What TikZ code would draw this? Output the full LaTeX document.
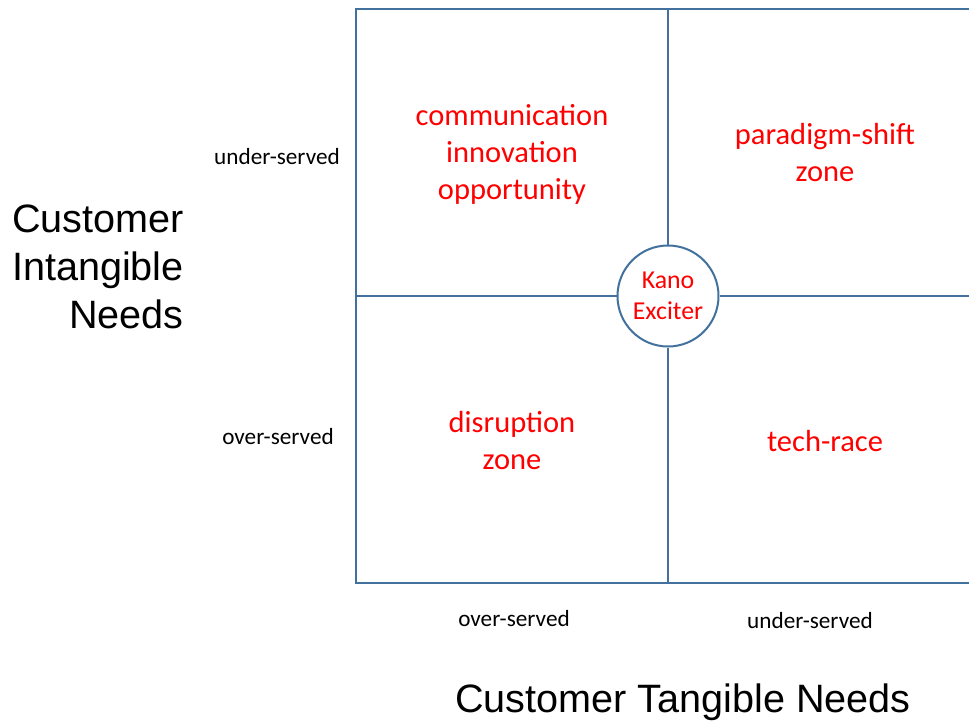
\documentclass[tikz,border=0pt]{standalone}
\usepackage{fontspec}
\setmainfont{Carlito}
\newfontfamily\arialfont{Liberation Sans}
\definecolor{gridblue}{RGB}{65,113,156}

\begin{document}
\begin{tikzpicture}[x=1pt,y=-1pt]
\tikzstyle{every node}=[inner sep=0pt,align=center];
\tikzstyle{zone}=[text=red,font=\fontsize{30.5}{37}\selectfont];
\tikzstyle{served}=[font=\fontsize{23.2}{27}\selectfont];
\tikzstyle{axis}=[font=\arialfont\fontsize{39.6}{48}\selectfont];
\tikzstyle{edge}=[draw=gridblue,line width=2pt];
\useasboundingbox (0,0) rectangle (969,721);
% the box is open on the right, it runs off the page
\coordinate (tr) at (972,9);
\coordinate (tl) at (356,9);
\coordinate (bl) at (356,583);
\coordinate (br) at (972,583);
\coordinate (tm) at (668,9);
\coordinate (bm) at (668,583);
\coordinate (lm) at (356,296);
\coordinate (rm) at (972,296);
\path (668,296) node[circle,draw=gridblue,line width=2pt,fill=white,minimum size=101pt,text=red,font=\fontsize{25.8}{31}\selectfont] (kano) {Kano\\Exciter};
\draw[edge] (tr) -- (tl) -- (bl) -- (br);
\draw[edge] (kano) -- (tm)
(kano) -- (bm)
(kano) -- (lm)
(kano) -- (rm);
% quadrants
\path (512,154) node[zone] (comm) {communication\\innovation\\opportunity};
\path (825,153) node[zone] (shift) {paradigm-shift\\zone};
\path (512,441) node[zone] (disr) {disruption\\zone};
\path (825,441) node[zone] (race) {tech-race};
% axes
\path (277,157) node[served] (yhi) {under-served};
\path (278,437) node[served] (ylo) {over-served};
\path (514,619) node[served] (xlo) {over-served};
\path (810,621) node[served] (xhi) {under-served};
\path (184,267) node[axis,anchor=east,align=right] (ylab) {Customer\\Intangible\\Needs};
\path (683,702) node[axis] (xlab) {Customer Tangible Needs};
\end{tikzpicture}
\end{document}
